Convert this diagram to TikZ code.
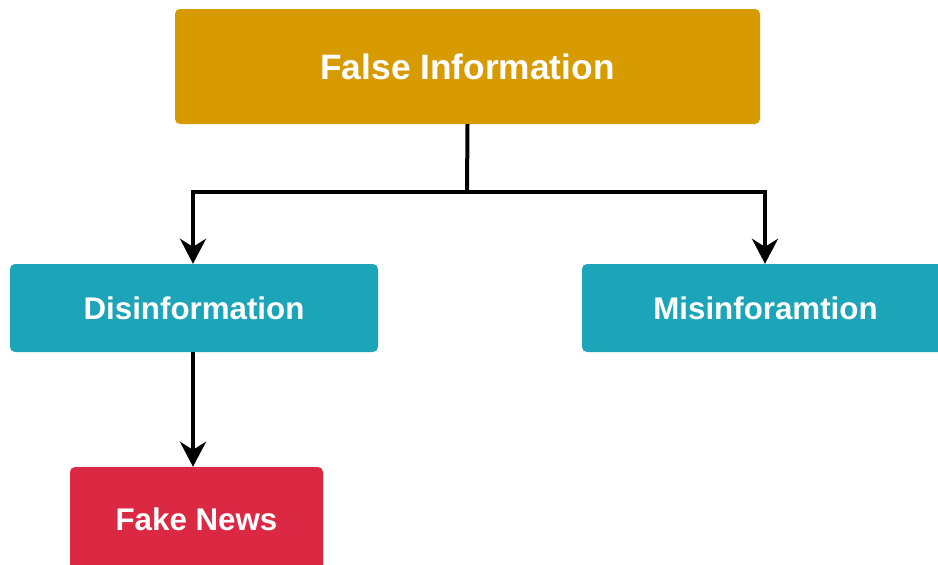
\documentclass[tikz,border=0pt]{standalone}
\usepackage{fontspec}
\setmainfont{Liberation Sans}
\usetikzlibrary{arrows.meta}
\definecolor{goldfill}{HTML}{D79B00}
\definecolor{tealfill}{HTML}{1CA5B8}
\definecolor{redfill}{HTML}{DB2944}
\tikzset{
  box/.style={rounded corners=5pt, inner sep=0pt, text=white, font=\bfseries\fontsize{31.3}{36}\selectfont},
  arr/.style={line width=4pt, -{Stealth[length=25pt, width=26pt, inset=8pt]}},
  link/.style={line width=4pt}
}
\begin{document}
\begin{tikzpicture}[x=1pt, y=-1pt]
  \clip (0,0) rectangle (938,565);
  \fill[white] (0,0) rectangle (938,565);
  % boxes
  \node[box, fill=goldfill, minimum width=585pt, minimum height=115pt,
        font=\bfseries\fontsize{35.3}{40}\selectfont] (top) at (467.5,66.5) {False Information};
  \node[box, fill=tealfill, minimum width=368pt, minimum height=88pt] (dis) at (194,308) {Disinformation};
  \node[box, fill=tealfill, minimum width=367pt, minimum height=88pt] (mis) at (765.5,308) {Misinforamtion};
  \node[box, fill=redfill, minimum width=253pt, minimum height=104pt] (fake) at (196.5,519) {Fake News};
  % connectors
  \coordinate (split) at (467,192);
  \draw[link] (top.south) -- (split);
  \draw[arr] (split) -| ([xshift=-1pt]dis.north);
  \draw[arr] (split) -| ([xshift=-0.5pt]mis.north);
  \draw[arr] ([xshift=-1pt]dis.south) -- ([xshift=-1pt]dis.south |- fake.north);
\end{tikzpicture}
\end{document}
